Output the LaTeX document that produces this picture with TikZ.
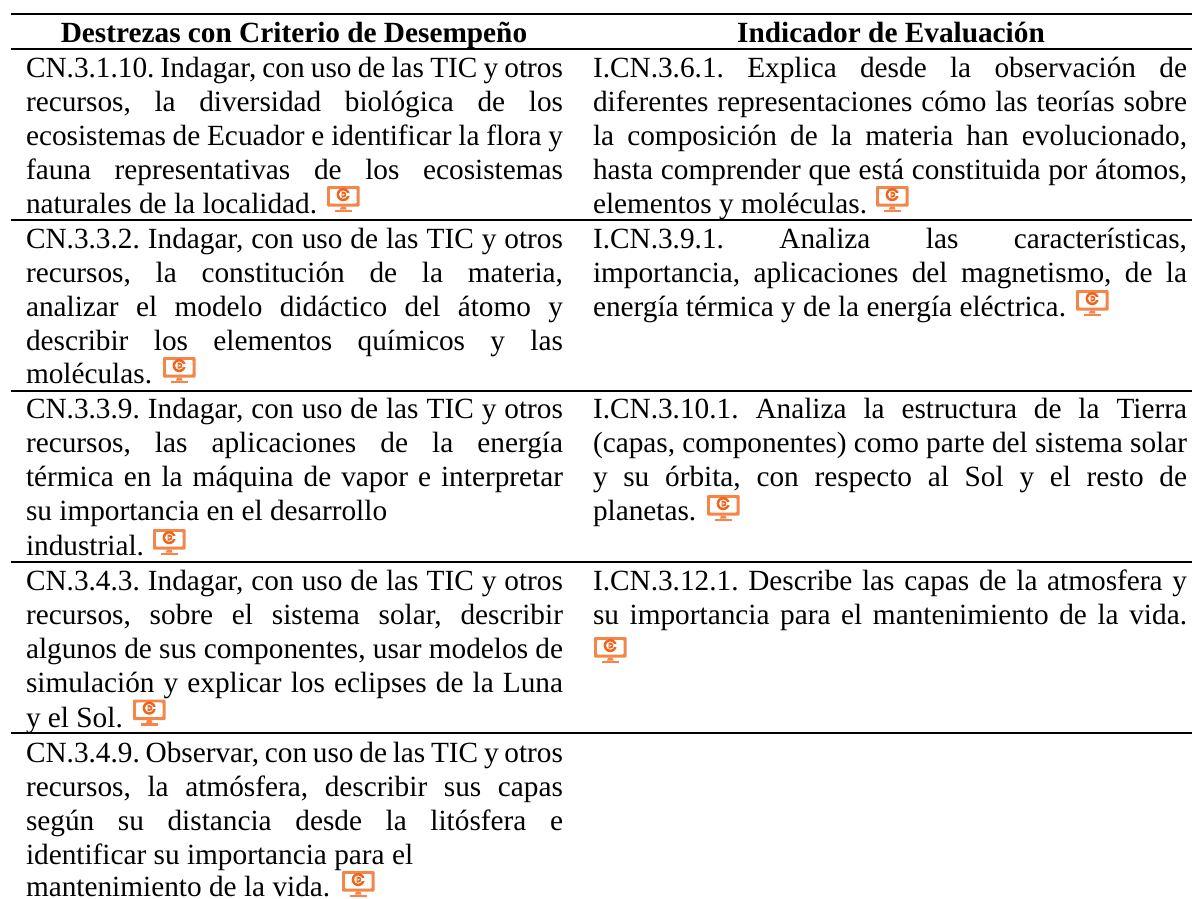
\documentclass[tikz,border=0pt]{standalone}
\usepackage{fontspec}
\setmainfont{Liberation Serif}
\definecolor{iconor}{HTML}{F5864A}
\definecolor{icondk}{HTML}{F0651E}
\newcounter{tl}
\newcommand{\jl}[4]{\stepcounter{tl}\node[txt,name=t\thetl] at (#1,#2) {\makebox[#3bp][s]{\frenchspacing #4}};}
\newcommand{\pl}[3]{\stepcounter{tl}\node[txt,name=t\thetl] at (#1,#2) {\frenchspacing #3};}
\tikzset{
 txt/.style={anchor=base west,inner sep=0pt,outer sep=0pt,font=\fontsize{29.4pt}{33pt}\selectfont},
 hd/.style={anchor=base,inner sep=0pt,outer sep=0pt,font=\fontsize{29.4pt}{33pt}\selectfont\bfseries},
 rulet/.style={line width=2.2bp,black},
 pics/mon/.style={code={
  \fill[iconor,even odd rule,rounded corners=1bp] (0,0) rectangle (32.5,20.5) (2.8,2.8) rectangle (29.7,17.7);
  \fill[iconor] (14,20.5) -- (18.5,20.5) -- (19.5,23.6) -- (13,23.6) -- cycle;
  \fill[iconor] (7.5,23.6) rectangle (25,26);
  \fill[icondk] (16.2,8.6) circle (6.6);
  \fill[white] (16.2,8.6) circle (4.1);
  \fill[white] (19,7.3) rectangle (23.2,9.9);
  \fill[icondk] (14.6,5.6) -- (16.2,5.6) .. controls (20.3,5.6) and (20.3,11.6) .. (16.2,11.6) -- (14.6,11.6) -- cycle;
  \fill[white] (15.6,7.4) -- (17.8,8.6) -- (15.6,9.8) -- cycle;
 }}
}
\begin{document}
\begin{tikzpicture}[x=1bp,y=-1bp]
\useasboundingbox (0,0) rectangle (1192,899);
\fill[white] (0,0) rectangle (1192,899);
\foreach \yy in {14,49,220,391,562,733} \draw[rulet] (11,\yy) -- (1192,\yy);
\node[hd,name=h1] at (294,42) {Destrezas con Criterio de Desempeño};
\node[hd,name=h2] at (891,42) {Indicador de Evaluación};
% left
\jl{26}{77}{537}{CN.3.1.10. Indagar, con uso de las TIC y otros}
\jl{26}{111}{537}{recursos, la diversidad biológica de los}
\jl{26}{145}{537}{ecosistemas de Ecuador e identificar la flora y}
\jl{26}{179}{537}{fauna representativas de los ecosistemas}
\pl{26}{213}{naturales de la localidad.}
\jl{26}{248}{537}{CN.3.3.2. Indagar, con uso de las TIC y otros}
\jl{26}{282}{537}{recursos, la constitución de la materia,}
\jl{26}{316}{537}{analizar el modelo didáctico del átomo y}
\jl{26}{350}{537}{describir los elementos químicos y las}
\pl{26}{383}{moléculas.}
\jl{26}{418}{537}{CN.3.3.9. Indagar, con uso de las TIC y otros}
\jl{26}{452}{537}{recursos, las aplicaciones de la energía}
\jl{26}{486}{537}{térmica en la máquina de vapor e interpretar}
\pl{26}{520}{su importancia en el desarrollo}
\pl{26}{555}{industrial.}
\jl{26}{590}{537}{CN.3.4.3. Indagar, con uso de las TIC y otros}
\jl{26}{624}{537}{recursos, sobre el sistema solar, describir}
\jl{26}{658}{537}{algunos de sus componentes, usar modelos de}
\jl{26}{692}{537}{simulación y explicar los eclipses de la Luna}
\pl{26}{727}{y el Sol.}
\jl{26}{762}{537}{CN.3.4.9. Observar, con uso de las TIC y otros}
\jl{26}{796}{537}{recursos, la atmósfera, describir sus capas}
\jl{26}{830}{537}{según su distancia desde la litósfera e}
\pl{26}{864}{identificar su importancia para el}
\pl{26}{896.5}{mantenimiento de la vida.}
% right
\jl{593}{77}{594}{I.CN.3.6.1. Explica desde la observación de}
\jl{593}{111}{594}{diferentes representaciones cómo las teorías sobre}
\jl{593}{145}{594}{la composición de la materia han evolucionado,}
\jl{593}{179}{594}{hasta comprender que está constituida por átomos,}
\pl{593}{213}{elementos y moléculas.}
\jl{593}{248}{594}{I.CN.3.9.1. Analiza las características,}
\jl{593}{282}{594}{importancia, aplicaciones del magnetismo, de la}
\pl{593}{316}{energía térmica y de la energía eléctrica.}
\jl{593}{418}{594}{I.CN.3.10.1. Analiza la estructura de la Tierra}
\jl{593}{452}{594}{(capas, componentes) como parte del sistema solar}
\jl{593}{486}{594}{y su órbita, con respecto al Sol y el resto de}
\pl{593}{520}{planetas.}
\jl{593}{590}{594}{I.CN.3.12.1. Describe las capas de la atmosfera y}
\jl{593}{624}{594}{su importancia para el mantenimiento de la vida.}
% icons
\pic at (327,186) {mon};
\pic at (163,357) {mon};
\pic at (153,529) {mon};
\pic at (133,699.5) {mon};
\pic at (342,871) {mon};
\pic at (876,186) {mon};
\pic at (1076,290) {mon};
\pic at (707,495) {mon};
\pic at (594,637) {mon};
\end{tikzpicture}
\end{document}
